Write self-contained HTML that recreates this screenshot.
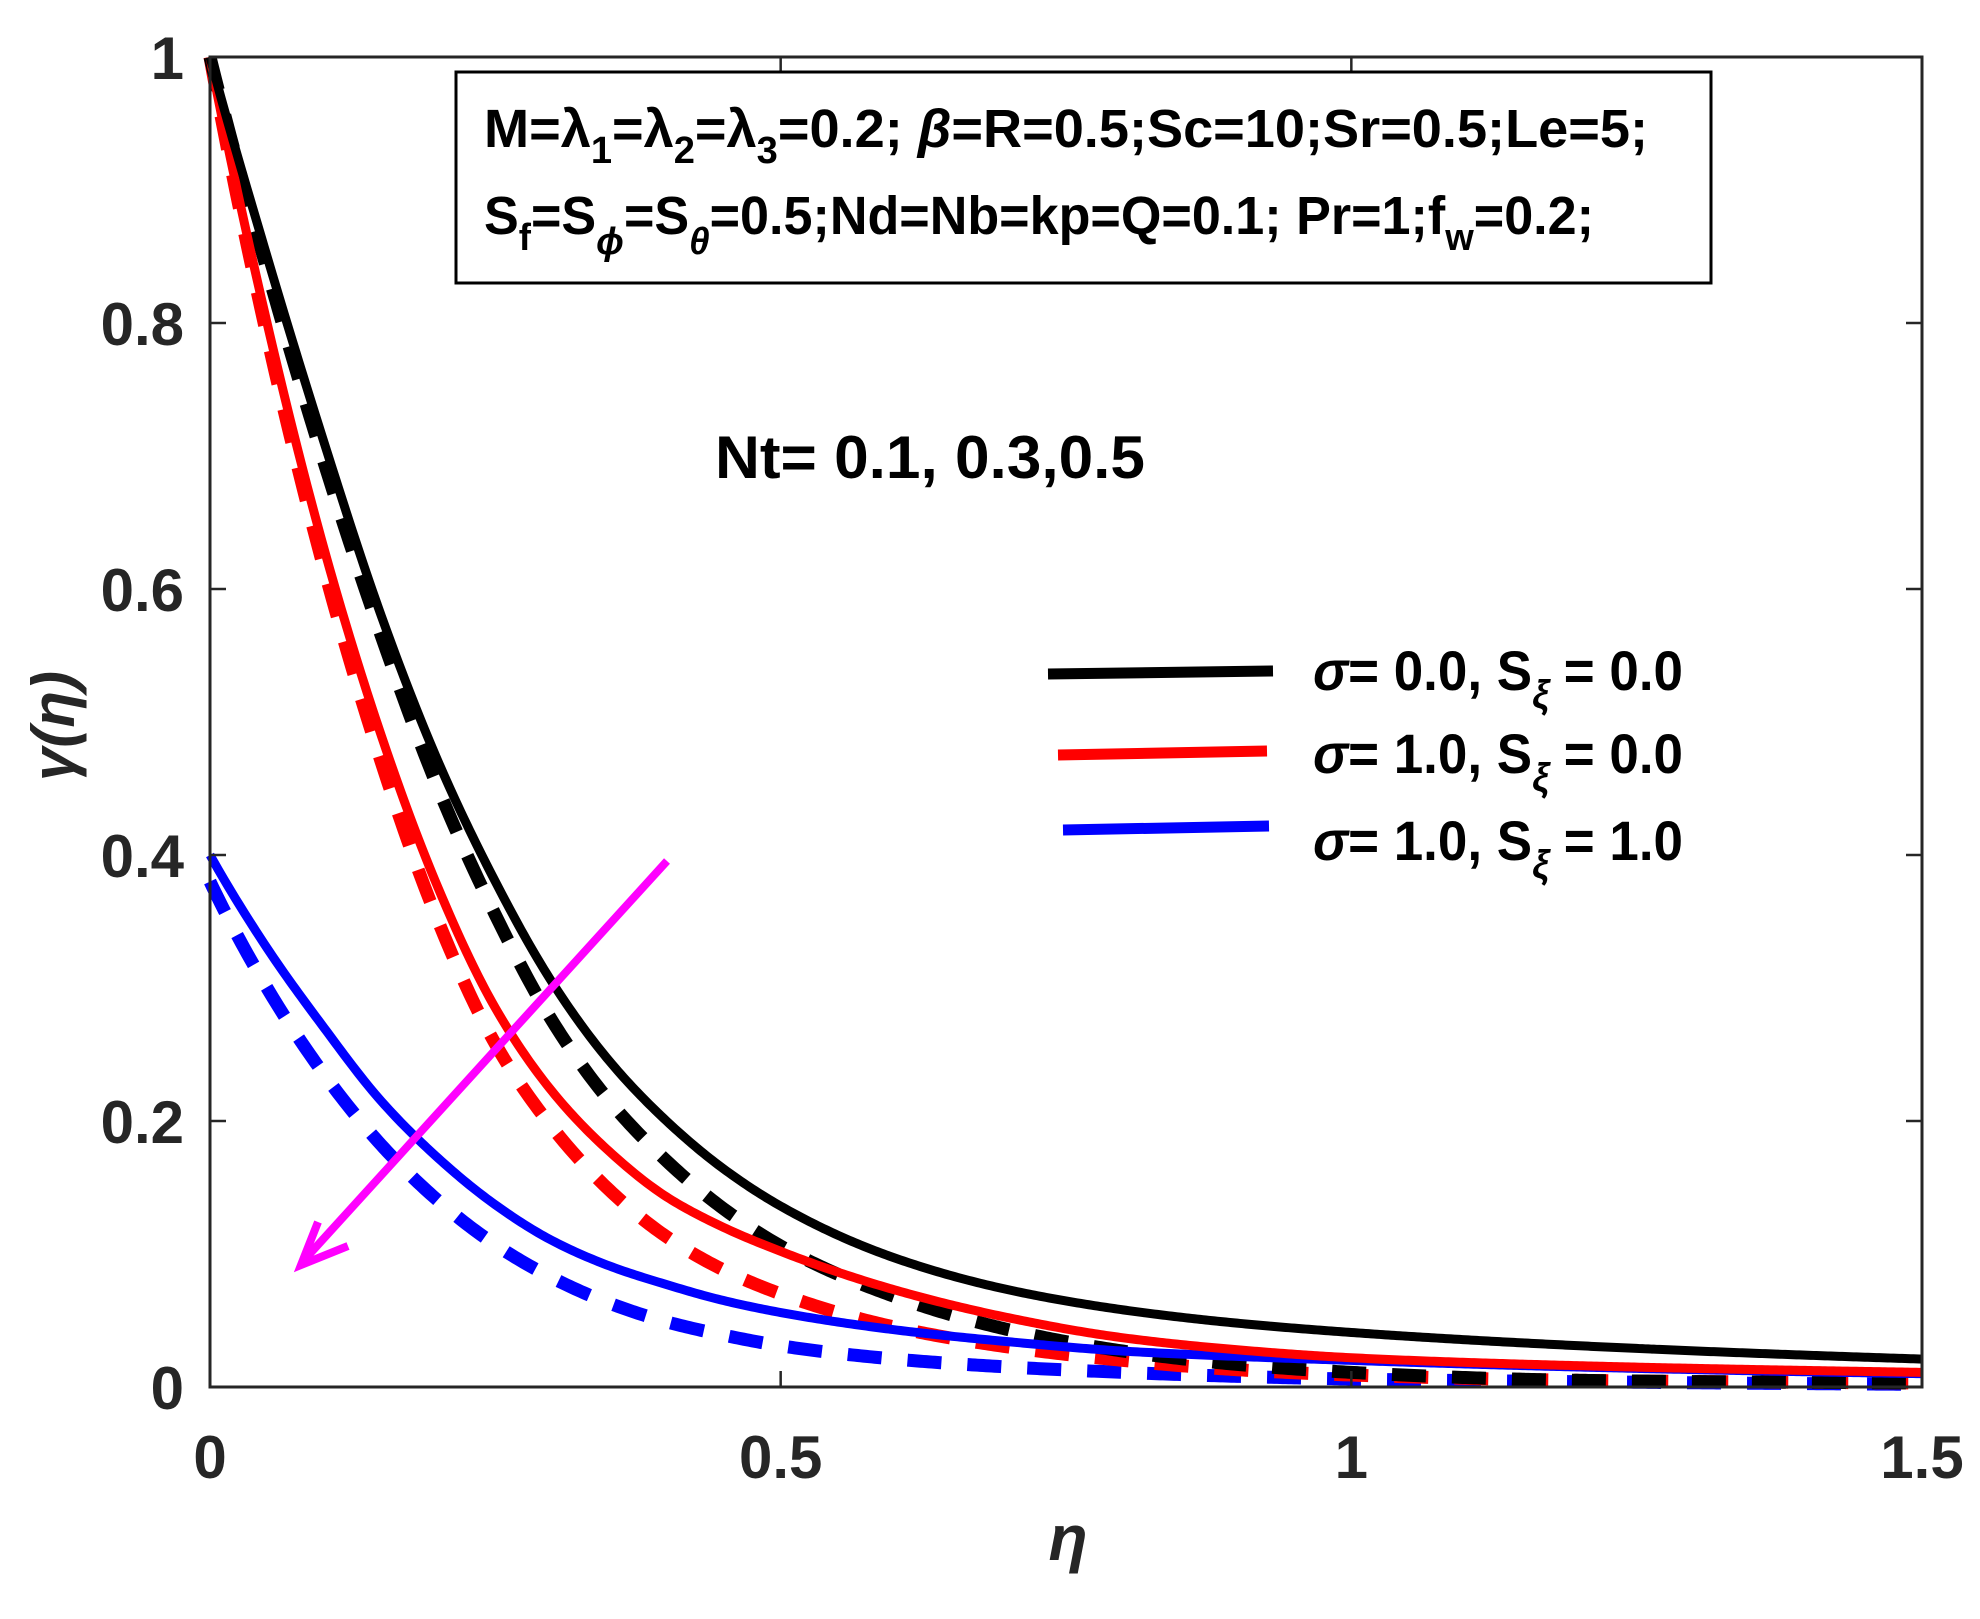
<!DOCTYPE html>
<html><head><meta charset="utf-8"><style>
html,body{margin:0;padding:0;background:#fff;}
svg{display:block;}
text{font-family:"Liberation Sans",sans-serif;font-weight:bold;fill:#262626;}
</style></head><body>
<svg id="chart" width="1980" height="1619" viewBox="0 0 1980 1619" xmlns="http://www.w3.org/2000/svg">
<g id="plot"></g>
<g id="axes"></g>
<rect x="456" y="72" width="1255" height="211" fill="#fff" stroke="#000" stroke-width="3"/>
<text x="484" y="147" font-size="54" textLength="1164" lengthAdjust="spacingAndGlyphs" style="fill:#000">M=λ<tspan font-size="38" dy="16">1</tspan><tspan dy="-16">=λ</tspan><tspan font-size="38" dy="16">2</tspan><tspan dy="-16">=λ</tspan><tspan font-size="38" dy="16">3</tspan><tspan dy="-16">=0.2; </tspan><tspan font-style="italic">β</tspan>=R=0.5;Sc=10;Sr=0.5;Le=5;</text>
<text x="484" y="234" font-size="54" textLength="1110" lengthAdjust="spacingAndGlyphs" style="fill:#000">S<tspan font-size="38" dy="16">f</tspan><tspan dy="-16">=S</tspan><tspan font-size="38" dy="20" font-style="italic">ϕ</tspan><tspan dy="-20">=S</tspan><tspan font-size="38" dy="20" font-style="italic">θ</tspan><tspan dy="-20">=0.5;Nd=Nb=kp=Q=0.1; Pr=1;f</tspan><tspan font-size="38" dy="16">w</tspan><tspan dy="-16">=0.2;</tspan></text>
<text x="715" y="478" font-size="60" textLength="430" lengthAdjust="spacingAndGlyphs" style="fill:#000">Nt= 0.1, 0.3,0.5</text>
<g>
<line x1="1048" y1="674" x2="1273" y2="671" stroke="#000" stroke-width="11"/>
<line x1="1058" y1="755" x2="1267" y2="751" stroke="#f00" stroke-width="11"/>
<line x1="1063" y1="830" x2="1269" y2="826" stroke="#00f" stroke-width="11"/>
<text x="1313" y="690" font-size="56" textLength="370" lengthAdjust="spacingAndGlyphs" style="fill:#000"><tspan font-style="italic">σ</tspan>= 0.0, S<tspan font-size="40" dy="18" font-style="italic">ξ</tspan><tspan dy="-18"> = 0.0</tspan></text>
<text x="1313" y="773" font-size="56" textLength="370" lengthAdjust="spacingAndGlyphs" style="fill:#000"><tspan font-style="italic">σ</tspan>= 1.0, S<tspan font-size="40" dy="18" font-style="italic">ξ</tspan><tspan dy="-18"> = 0.0</tspan></text>
<text x="1313" y="860" font-size="56" textLength="370" lengthAdjust="spacingAndGlyphs" style="fill:#000"><tspan font-style="italic">σ</tspan>= 1.0, S<tspan font-size="40" dy="18" font-style="italic">ξ</tspan><tspan dy="-18"> = 1.0</tspan></text>
</g>
<g>
<line x1="667" y1="861" x2="306" y2="1258" stroke="#f0f" stroke-width="8"/>
<polyline points="318,1222 301,1265 348,1246" fill="none" stroke="#f0f" stroke-width="8"/>
</g>
<text transform="translate(74,726) rotate(-90)" text-anchor="middle" font-size="60" font-family="Liberation Serif" font-style="italic">γ(η)</text>
<text x="1068" y="1560" text-anchor="middle" font-size="64" font-family="Liberation Serif" font-style="italic">η</text>
</svg>
<script>
const etas=[0,0.05,0.1,0.15,0.2,0.25,0.3,0.35,0.4,0.45,0.5,0.6,0.7,0.8,0.9,1.0,1.2,1.5];
const blackSolid=[1,0.85,0.71,0.58,0.47,0.38,0.304,0.245,0.2,0.164,0.136,0.097,0.073,0.058,0.048,0.041,0.031,0.021];
const blackDashed=[1,0.84,0.695,0.565,0.45,0.355,0.275,0.215,0.17,0.134,0.106,0.068,0.043,0.027,0.017,0.011,0.005,0.003];
const redSolid=[1,0.80,0.63,0.49,0.375,0.285,0.222,0.177,0.143,0.12,0.102,0.073,0.052,0.037,0.028,0.022,0.016,0.011];
const redDashed=[1,0.79,0.615,0.47,0.35,0.258,0.195,0.148,0.113,0.088,0.07,0.045,0.03,0.02,0.013,0.009,0.005,0.003];
const blueSolid=[0.4,0.33,0.27,0.215,0.172,0.137,0.11,0.091,0.077,0.065,0.056,0.043,0.034,0.027,0.023,0.02,0.015,0.01];
const blueDashed=[0.38,0.30,0.235,0.182,0.14,0.107,0.082,0.063,0.049,0.039,0.031,0.021,0.015,0.011,0.008,0.006,0.004,0.002];
const xTicks=[0,0.5,1,1.5];
const xTickLabels=["0","0.5","1","1.5"];
const yTicks=[0,0.2,0.4,0.6,0.8,1];
const yTickLabels=["0","0.2","0.4","0.6","0.8","1"];
const L=210,R=1922,T=57,B=1387;
const sx=v=>L+(v-0)/(1.5)*(R-L);
const sy=v=>B-v*(B-T);
const NS="http://www.w3.org/2000/svg";
const plot=document.getElementById('plot'),axes=document.getElementById('axes');
function interp(xs,ys){
  // monotone cubic (Fritsch-Carlson) on log values
  const n=xs.length,ly=ys.map(v=>Math.log(v));
  const h=[],d=[];
  for(let i=0;i<n-1;i++){h.push(xs[i+1]-xs[i]);d.push((ly[i+1]-ly[i])/h[i]);}
  const m=[d[0]];
  for(let i=1;i<n-1;i++){
    if(d[i-1]*d[i]<=0)m.push(0);
    else{const w1=2*h[i]+h[i-1],w2=h[i]+2*h[i-1];m.push((w1+w2)/(w1/d[i-1]+w2/d[i]));}
  }
  m.push(d[n-2]);
  return x=>{
    let i=0;while(i<n-2&&x>xs[i+1])i++;
    const t=(x-xs[i])/h[i],t2=t*t,t3=t2*t;
    const v=(2*t3-3*t2+1)*ly[i]+(t3-2*t2+t)*h[i]*m[i]+(-2*t3+3*t2)*ly[i+1]+(t3-t2)*h[i]*m[i+1];
    return Math.exp(v);
  };
}
function path(d,color,dashed,name){
  const p=document.createElementNS(NS,'path');
  const f=interp(etas,d);
  const N=600,x0=etas[0],x1=etas[etas.length-1];
  let s='';
  for(let k=0;k<=N;k++){const e=x0+(x1-x0)*k/N;s+=(k?'L':'M')+sx(e).toFixed(2)+','+sy(f(e)).toFixed(2);}
  p.setAttribute('d',s);
  p.setAttribute('fill','none');p.setAttribute('stroke',color);
  p.setAttribute('stroke-width',dashed?13:9);
  p.setAttribute('stroke-linejoin','round');
  if(dashed)p.setAttribute('stroke-dasharray','34 26');
  
  
  plot.appendChild(p);
}
path(blueDashed,'#00f',true,'series-blue-dashed');
path(redDashed,'#f00',true,'series-red-dashed');
path(blackDashed,'#000',true,'series-black-dashed');
path(blueSolid,'#00f',false,'series-blue-solid');
path(redSolid,'#f00',false,'series-red-solid');
path(blackSolid,'#000',false,'series-black-solid');
const frame=document.createElementNS(NS,'rect');
frame.setAttribute('x',L);frame.setAttribute('y',T);frame.setAttribute('width',R-L);frame.setAttribute('height',B-T);
frame.setAttribute('fill','none');frame.setAttribute('stroke','#262626');frame.setAttribute('stroke-width','3');


axes.appendChild(frame);
function ln(x1,y1,x2,y2){const l=document.createElementNS(NS,'line');l.setAttribute('x1',x1);l.setAttribute('y1',y1);l.setAttribute('x2',x2);l.setAttribute('y2',y2);l.setAttribute('stroke','#262626');l.setAttribute('stroke-width','2.5');


axes.appendChild(l);}
function tx(x,y,s,anchor,name){const t=document.createElementNS(NS,'text');t.setAttribute('x',x);t.setAttribute('y',y);t.setAttribute('font-size','60');t.setAttribute('text-anchor',anchor);t.textContent=s;


axes.appendChild(t);}
xTicks.forEach((v,i)=>{const x=sx(v);ln(x,B,x,B-16);ln(x,T,x,T+16);tx(x,1478,xTickLabels[i],'middle','x-tick-label');});
yTicks.forEach((v,i)=>{const y=sy(v);ln(L,y,L+16,y);ln(R,y,R-16,y);tx(184,y+22,yTickLabels[i],'end','y-tick-label');});
</script>
</body></html>
